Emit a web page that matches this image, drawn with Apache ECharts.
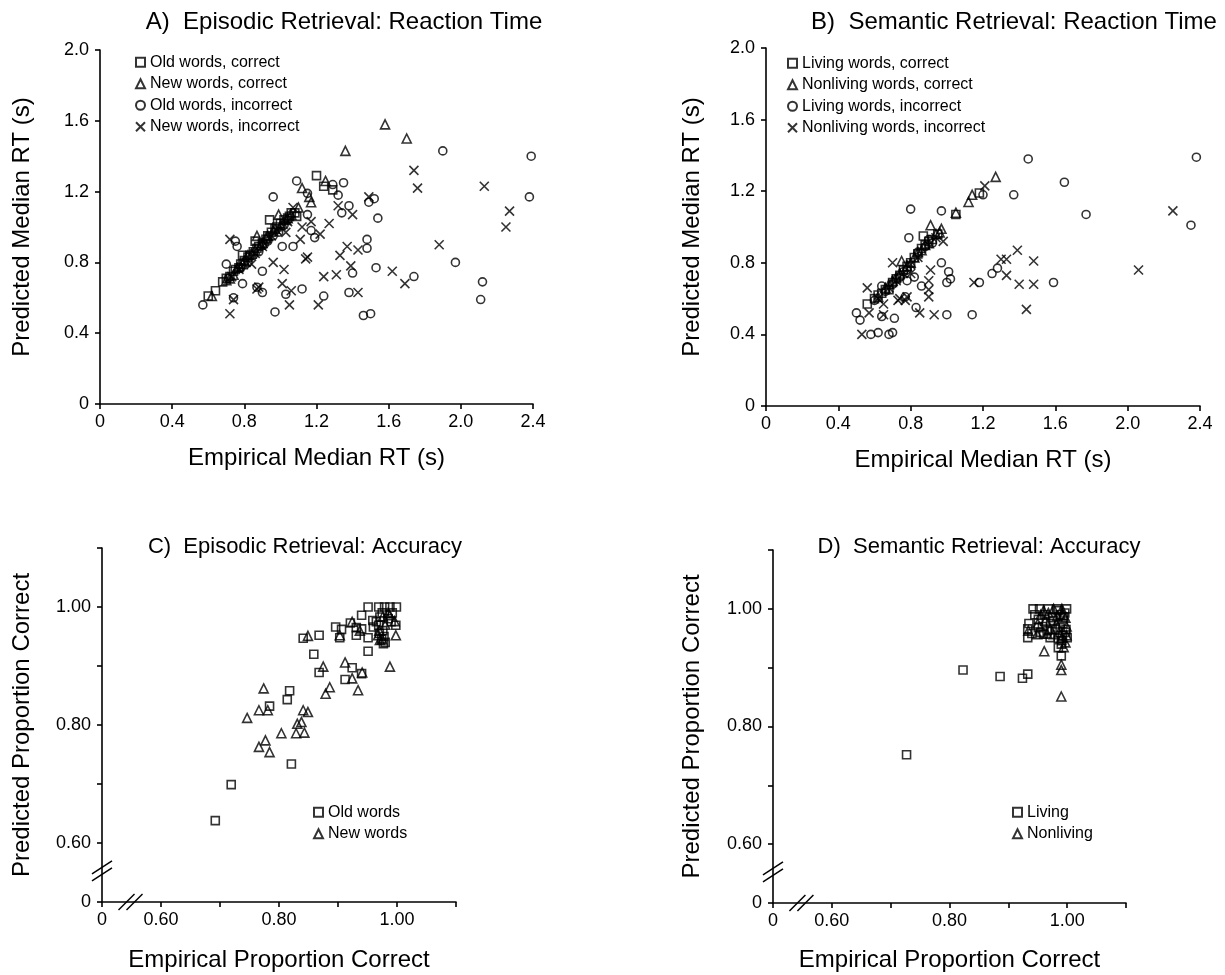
<!DOCTYPE html>
<html>
<head>
<meta charset="utf-8">
<script src="https://cdn.jsdelivr.net/npm/echarts@6/dist/echarts.min.js"></script>
<style>
  html, body { margin: 0; padding: 0; background: #fff; }
  #main { width: 1225px; height: 975px; }
</style>
</head>
<body>
<div id="main"></div>
<script>
// ---- data: [empirical, predicted] ----

// A) episodic retrieval, RT (s)
var epiOldCorrect = [[0.60,0.61],[0.64,0.64],[0.68,0.69],[0.72,0.72],[0.75,0.76],[0.79,0.84],[0.78,0.79],[0.82,0.83],[0.85,0.86],[0.86,0.92],[0.88,0.89],[0.92,0.93],[0.94,1.04],[0.95,0.97],[0.98,1.00],[1.02,1.04],[1.05,1.06],[1.09,1.06],[1.08,1.08],[1.20,1.29],[1.24,1.23],[1.29,1.21],
    [0.70,0.71],[0.74,0.75],[0.77,0.77],[0.80,0.81],[0.83,0.84],[0.87,0.88],[0.90,0.91],[0.93,0.95],[0.97,0.99],[1.00,1.02],[1.04,1.05],[1.06,1.08]];
var epiNewCorrect = [[0.62,0.61],[0.70,0.70],[0.74,0.73],[0.77,0.78],[0.80,0.81],[0.84,0.85],[0.87,0.95],[0.90,0.91],[0.93,0.95],[0.97,0.99],[0.99,1.07],[1.01,1.02],[1.04,1.05],[1.10,1.11],[1.12,1.22],[1.16,1.17],[1.17,1.14],[1.25,1.26],[1.36,1.43],[1.58,1.58],[1.70,1.50],
    [0.72,0.71],[0.76,0.77],[0.79,0.79],[0.82,0.84],[0.86,0.87],[0.89,0.90],[0.92,0.94],[0.96,0.98],[1.00,1.01],[1.03,1.04],[1.06,1.07]];
var epiOldIncorrect = [[0.57,0.56],[0.70,0.79],[0.75,0.92],[0.76,0.89],[0.74,0.60],[0.79,0.68],[0.87,0.66],[0.90,0.75],[0.90,0.63],[0.96,1.17],[0.97,0.52],[1.01,0.89],[1.03,0.62],[1.07,0.89],[1.09,1.26],[1.12,0.65],[1.15,1.19],[1.15,1.07],[1.17,0.98],[1.19,0.94],[1.24,0.61],[1.29,1.24],[1.32,1.18],[1.35,1.25],[1.34,1.08],[1.38,1.12],[1.38,0.63],[1.40,0.74],[1.48,0.93],[1.48,0.88],[1.49,1.14],[1.52,1.16],[1.53,0.77],[1.54,1.05],[1.46,0.50],[1.50,0.51],[1.74,0.72],[1.90,1.43],[1.97,0.80],[2.12,0.69],[2.11,0.59],[2.38,1.17],[2.39,1.40],[0.82,0.80],[0.88,0.86],[0.93,0.92],[0.99,0.97],
    [0.71,0.71],[0.78,0.77],[0.85,0.84],[0.91,0.90],[0.96,0.95],[1.02,1.01]];
var epiNewIncorrect = [[0.72,0.93],[0.72,0.51],[0.74,0.59],[0.84,0.79],[0.87,0.65],[0.88,0.66],[0.96,0.80],[0.95,0.95],[1.02,0.76],[1.01,0.68],[1.06,0.64],[1.05,0.56],[1.03,0.97],[1.07,1.11],[1.12,1.00],[1.17,1.03],[1.11,0.93],[1.14,0.82],[1.15,0.83],[1.22,0.96],[1.21,0.56],[1.27,1.02],[1.24,0.72],[1.31,0.73],[1.32,1.12],[1.33,0.84],[1.37,0.89],[1.39,0.78],[1.40,1.07],[1.43,0.87],[1.43,0.63],[1.49,1.17],[1.62,0.75],[1.69,0.68],[1.74,1.32],[1.76,1.22],[1.88,0.90],[2.13,1.23],[2.25,1.00],[2.27,1.09],
    [0.73,0.72],[0.77,0.76],[0.81,0.80],[0.86,0.85],[0.90,0.89],[0.98,0.98],[1.04,1.03]];

// B) semantic retrieval, RT (s)
var semLivCorrect = [[0.56,0.57],[0.62,0.62],[0.66,0.65],[0.68,0.65],[0.70,0.69],[0.74,0.73],[0.78,0.78],[0.82,0.83],[0.86,0.88],[0.87,0.95],[0.90,0.92],[1.05,1.07],[1.18,1.19],
    [0.60,0.60],[0.64,0.63],[0.72,0.71],[0.76,0.76],[0.80,0.80],[0.84,0.85],[0.88,0.90],[0.92,0.93],[0.95,0.96]];
var semNonCorrect = [[0.68,0.68],[0.72,0.72],[0.75,0.81],[0.80,0.80],[0.84,0.86],[0.88,0.90],[0.91,1.01],[0.94,0.96],[0.97,0.99],[1.05,1.08],[1.12,1.14],[1.14,1.18],[1.27,1.28],
    [0.62,0.61],[0.66,0.66],[0.70,0.70],[0.74,0.74],[0.78,0.78],[0.82,0.83],[0.86,0.87],[0.90,0.91],[0.96,0.97]];
var semLivIncorrect = [[0.50,0.52],[0.52,0.48],[0.58,0.40],[0.62,0.41],[0.68,0.40],[0.70,0.41],[0.64,0.50],[0.71,0.49],[0.64,0.67],[0.77,0.61],[0.78,0.76],[0.82,0.72],[0.86,0.67],[0.79,0.94],[0.80,1.10],[0.97,1.09],[0.97,0.80],[1.01,0.75],[1.02,0.71],[1.00,0.69],[0.83,0.55],[1.00,0.51],[1.14,0.51],[1.18,0.69],[1.25,0.74],[1.28,0.77],[1.37,1.18],[1.20,1.18],[1.45,1.38],[1.59,0.69],[1.65,1.25],[1.77,1.07],[2.35,1.01],[2.38,1.39],[0.90,0.93],
    [0.60,0.59],[0.66,0.64],[0.70,0.68],[0.74,0.72],[0.78,0.70],[0.84,0.86],[0.88,0.89],[0.92,0.91],[0.76,0.75]];
var semNonIncorrect = [[0.53,0.40],[0.56,0.66],[0.57,0.52],[0.65,0.51],[0.65,0.57],[0.70,0.80],[0.73,0.59],[0.74,0.60],[0.85,0.52],[0.91,0.76],[0.90,0.70],[0.90,0.61],[0.90,0.65],[0.93,0.51],[0.98,0.92],[1.15,0.69],[1.21,1.23],[1.30,0.82],[1.33,0.82],[1.33,0.73],[1.39,0.87],[1.40,0.68],[1.48,0.81],[1.48,0.68],[1.44,0.54],[2.06,0.76],[2.25,1.09],[0.80,0.74],
    [0.62,0.60],[0.68,0.66],[0.72,0.70],[0.76,0.74],[0.80,0.79],[0.84,0.83],[0.94,0.94],[0.78,0.61],[0.77,0.59]];

// C) episodic retrieval, accuracy
var accOldWords = [[0.692,0.638],[0.719,0.699],[0.784,0.832],[0.814,0.843],[0.818,0.858],[0.821,0.734],[0.841,0.947],[0.868,0.952],[0.859,0.920],[0.868,0.889],[0.896,0.966],[0.906,0.962],[0.903,0.948],[0.912,0.877],[0.924,0.897],[0.940,0.887],[0.921,0.973],[0.931,0.952],[0.940,0.986],[0.951,1.000],[0.951,0.948],[0.951,0.925],[0.960,0.966],[0.969,1.000],[0.979,1.000],[0.988,1.000],[0.999,1.000],[0.971,0.983],[0.976,0.960],[0.977,0.938],[0.969,0.969],[0.990,0.975],[0.998,0.969],[0.959,0.977],[0.931,0.965],[0.940,0.963],[0.974,0.946],
    [0.975,0.990],[0.985,0.980],[0.970,0.955],[0.978,0.950],[0.980,0.940],[0.965,0.975],[0.992,0.990]];
var accNewWords = [[0.746,0.812],[0.766,0.825],[0.774,0.862],[0.781,0.825],[0.766,0.763],[0.777,0.774],[0.784,0.754],[0.804,0.786],[0.829,0.786],[0.831,0.802],[0.838,0.805],[0.843,0.787],[0.841,0.825],[0.849,0.822],[0.875,0.899],[0.879,0.853],[0.886,0.864],[0.849,0.951],[0.903,0.952],[0.912,0.906],[0.924,0.879],[0.934,0.859],[0.941,0.889],[0.924,0.975],[0.937,0.960],[0.968,0.952],[0.971,0.944],[0.988,0.899],[0.988,0.986],[0.998,0.952],[0.996,0.976],[0.976,0.984],
    [0.980,0.970],[0.970,0.960],[0.985,0.990],[0.975,0.945]];

// D) semantic retrieval, accuracy
var accLiving = [[0.727,0.752],[0.823,0.896],[0.886,0.885],[0.924,0.882],[0.933,0.889],[0.990,0.920],[0.942,1.000],[0.953,1.000],[0.968,1.000],[0.983,1.000],[0.999,1.000],[0.933,0.966],[0.933,0.951],[0.951,0.982],[0.951,0.968],[0.966,0.963],[0.977,0.980],[0.988,0.968],[0.997,0.960],[0.991,0.946],[0.971,0.951],[0.985,0.934],[0.960,0.957],[0.994,0.986],[0.985,0.997],[1.000,0.951],
    [0.935,0.975],[0.945,0.990],[0.955,0.960],[0.962,0.990],[0.972,0.975],[0.980,0.965],[0.988,0.990],[0.993,0.975],[0.998,0.965],[0.985,0.950],[0.992,0.955],[0.990,0.940],[0.940,0.958],[0.958,0.970],[0.975,0.985],[0.996,0.993]];
var accNonliving = [[0.961,0.928],[0.990,0.905],[0.990,0.896],[0.990,0.851],[0.960,0.997],[0.977,1.000],[0.991,1.000],[0.934,0.963],[0.949,0.957],[0.963,0.980],[0.971,0.966],[0.983,0.988],[0.997,0.985],[0.997,0.943],[0.991,0.951],[0.977,0.957],
    [0.955,0.990],[0.968,0.993],[0.982,0.975],[0.993,0.990],[0.999,0.970],[0.950,0.975],[0.986,0.960],[0.999,0.955],[0.994,0.935],[0.966,0.958]];

var font = "'Liberation Sans', Arial, sans-serif";
var crossPath = 'path://M0,0L10,10M0,10L10,0';

var chart = echarts.init(document.getElementById('main'));

function rtLabel(v) {
    return v === 0 ? '0' : v.toFixed(1);
}
function accLabel(v) {
    var r = Math.round(v * 10);
    if (r === 5) return '0';
    if (r === 6 || r === 8 || r === 10) return (r / 10).toFixed(2);
    return '';
}

function axis(gi, max, interval, min, fmt, name, gap, isX) {
    return {
        type: 'value', gridIndex: gi, min: min, max: max, interval: interval,
        name: name, nameLocation: 'middle', nameGap: gap,
        nameTextStyle: { fontFamily: font, fontSize: 24, color: '#000' },
        axisLine: { show: true, onZero: false, lineStyle: { color: '#000', width: 1.6 } },
        axisTick: { show: true, inside: false, length: 5, lineStyle: { color: '#000', width: 1.6 } },
        axisLabel: { formatter: fmt, fontFamily: font, fontSize: 18, color: '#000', margin: isX ? 9 : 11 },
        splitLine: { show: false }
    };
}

function scatter(name, data, gi, symbol, size) {
    return {
        name: name, type: 'scatter', xAxisIndex: gi, yAxisIndex: gi,
        data: data, symbol: symbol, symbolSize: size,
        itemStyle: { color: 'rgba(0,0,0,0)', borderColor: '#000', borderWidth: 1.6 },
        emphasis: { disabled: true }
    };
}

function legend(names, left, top, size) {
    return {
        data: names, orient: 'vertical', left: left, top: top, padding: 0,
        itemWidth: 9, itemHeight: 9, itemGap: 5, selectedMode: false,
        textStyle: { fontFamily: font, fontSize: size, color: '#000', lineHeight: 16.5 }
    };
}

function title(text, cx, top, size) {
    return {
        text: text, left: cx, top: top, textAlign: 'center',
        textStyle: { fontFamily: font, fontSize: size, fontWeight: 'normal', color: '#000' }
    };
}

var option = {
    backgroundColor: '#fff',
    animation: false,
    title: [
        title('A)  Episodic Retrieval: Reaction Time', 339, 5, 24),
        title('B)  Semantic Retrieval: Reaction Time', 1009, 5, 24),
        title('C)  Episodic Retrieval: Accuracy', 300, 531, 22),
        title('D)  Semantic Retrieval: Accuracy', 974, 531, 22)
    ],
    legend: [
        legend(['Old words, correct', 'New words, correct', 'Old words, incorrect', 'New words, incorrect'], 135, 54, 16),
        legend(['Living words, correct', 'Nonliving words, correct', 'Living words, incorrect', 'Nonliving words, incorrect'], 787, 55, 16),
        legend(['Old words', 'New words'], 313, 804, 16),
        legend(['Living', 'Nonliving'], 1012, 804, 16)
    ],
    grid: [
        { left: 100, top: 50, width: 433, height: 354 },
        { left: 766, top: 48, width: 434, height: 358 },
        { left: 102, top: 548, width: 354, height: 354 },
        { left: 773, top: 550, width: 353, height: 353 }
    ],
    xAxis: [
        axis(0, 2.4, 0.4, 0, rtLabel, 'Empirical Median RT (s)', 42, true),
        axis(1, 2.4, 0.4, 0, rtLabel, 'Empirical Median RT (s)', 42, true),
        axis(2, 1.1, 0.1, 0.5, accLabel, 'Empirical Proportion Correct', 46, true),
        axis(3, 1.1, 0.1, 0.5, accLabel, 'Empirical Proportion Correct', 45, true)
    ],
    yAxis: [
        axis(0, 2.0, 0.4, 0, rtLabel, 'Predicted Median RT (s)', 66, false),
        axis(1, 2.0, 0.4, 0, rtLabel, 'Predicted Median RT (s)', 62, false),
        axis(2, 1.1, 0.1, 0.5, accLabel, 'Predicted Proportion Correct', 68, false),
        axis(3, 1.1, 0.1, 0.5, accLabel, 'Predicted Proportion Correct', 69, false)
    ],
    series: [
        scatter('Old words, correct', epiOldCorrect, 0, 'rect', 8),
        scatter('New words, correct', epiNewCorrect, 0, 'triangle', 9),
        scatter('Old words, incorrect', epiOldIncorrect, 0, 'circle', 8),
        scatter('New words, incorrect', epiNewIncorrect, 0, crossPath, 9),
        scatter('Living words, correct', semLivCorrect, 1, 'rect', 8),
        scatter('Nonliving words, correct', semNonCorrect, 1, 'triangle', 9),
        scatter('Living words, incorrect', semLivIncorrect, 1, 'circle', 8),
        scatter('Nonliving words, incorrect', semNonIncorrect, 1, crossPath, 9),
        scatter('Old words', accOldWords, 2, 'rect', 8),
        scatter('New words', accNewWords, 2, 'triangle', 9),
        scatter('Living', accLiving, 3, 'rect', 8),
        scatter('Nonliving', accNonliving, 3, 'triangle', 9)
    ]
};

chart.setOption(option);

// axis break marks (//) on the accuracy panels
var marks = [];
[2, 3].forEach(function (gi) {
    var py = chart.convertToPixel({ gridIndex: gi }, [0.5, 0.551]);
    var px = chart.convertToPixel({ gridIndex: gi }, [0.55, 0.5]);
    var segs = [
        [py[0] - 10, py[1] + 2, py[0] + 10, py[1] - 11],
        [py[0] - 10, py[1] + 9, py[0] + 10, py[1] - 4],
        [px[0] - 13, px[1] + 8, px[0] + 3, px[1] - 8],
        [px[0] - 5, px[1] + 8, px[0] + 11, px[1] - 8]
    ];
    segs.forEach(function (s) {
        marks.push({
            type: 'line', silent: true,
            shape: { x1: s[0], y1: s[1], x2: s[2], y2: s[3] },
            style: { stroke: '#000', lineWidth: 1.5 }
        });
    });
});
chart.setOption({ graphic: marks });
</script>
</body>
</html>
